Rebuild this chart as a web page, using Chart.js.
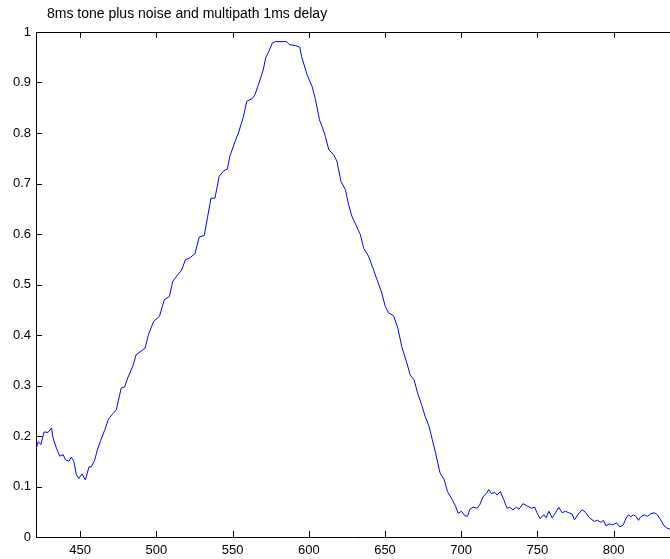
<!DOCTYPE html>
<html>
<head>
<meta charset="utf-8">
<script src="https://cdn.jsdelivr.net/npm/chart.js@4/dist/chart.umd.min.js"></script>
<style>
  html, body { margin: 0; padding: 0; background: #fff; }
  #wrap { width: 670px; height: 559px; position: relative; }
</style>
</head>
<body>
<div id="wrap"><canvas id="chart" width="670" height="559"></canvas></div>
<script>
// Title and axis ticks
const TITLE = '8ms tone plus noise and multipath 1ms delay';
const X_TICKS = [450, 500, 550, 600, 650, 700, 750, 800];
const Y_TICKS = [0, 0.1, 0.2, 0.3, 0.4, 0.5, 0.6, 0.7, 0.8, 0.9, 1];

// Curve (sample index vs. correlation)
const xs = [
  421, 422.4, 424.2, 426.3, 428.9, 431.2, 432.2, 434.4, 436.6, 438.8,
  440.3, 442.5, 444.2, 445.8, 447.5, 449.2, 451.2, 453.4, 455.8, 457.3,
  459.5, 461.2, 463.4, 466, 468.6, 471.4, 473.7, 476.9, 479.1, 481.2,
  484.5, 486.7, 490, 492.6, 494.8, 498.2, 502, 505.2, 508.5, 510.7,
  513.9, 516.5, 519, 521.6, 525.3, 528.1, 531.4, 533.5, 535.8, 538.4,
  541.2, 543.8, 546.6, 548.2, 552.1, 553.8, 556.9, 559.3, 562.9, 564.7,
  566.5, 568.4, 570.1, 571.7, 573.9, 576, 578.2, 585.2, 587.4, 591.3,
  594.1, 595.2, 598.9, 602.2, 604.4, 607, 608.7, 610.9, 613.1, 616.3,
  618.5, 621.1, 624, 626.1, 628.3, 630.9, 633.8, 636, 639.2, 642,
  644.6, 647.9, 650.1, 652.3, 655.6, 658.4, 661, 664.3, 666.5, 669.1,
  671.4, 674, 676.3, 678.9, 681, 683.2, 686.1, 688.9, 691, 694.1,
  696.3, 698, 700.2, 702.4, 704.1, 705.7, 707.8, 710.5, 712.2, 714.4,
  716.5, 718.1, 719.8, 722, 723.5, 725.7, 727.9, 730.1, 731.8, 734,
  736.2, 737.9, 740.5, 743.1, 746, 748.2, 749.7, 751.8, 754.1, 755.7,
  757.5, 759.7, 761.9, 764, 766.2, 768.4, 770.6, 772.7, 774.3, 776.5,
  779.3, 781.5, 784.1, 787.4, 789.5, 791.7, 793.3, 795, 797.2, 799.3,
  801.9, 804.1, 806.3, 808, 809.8, 811.3, 812.9, 814.6, 816.3, 817.8,
  820.1, 822.2, 824.4, 826.6, 828.7, 830.9, 833.1, 834.8, 837
];
const ys = [
  0.173, 0.189, 0.183, 0.208, 0.207, 0.216, 0.196, 0.176, 0.160, 0.163,
  0.153, 0.150, 0.158, 0.150, 0.123, 0.116, 0.125, 0.113, 0.139, 0.139,
  0.152, 0.172, 0.191, 0.211, 0.234, 0.244, 0.252, 0.295, 0.297, 0.315,
  0.338, 0.361, 0.368, 0.374, 0.401, 0.427, 0.437, 0.470, 0.476, 0.506,
  0.519, 0.528, 0.549, 0.552, 0.561, 0.594, 0.597, 0.632, 0.671, 0.671,
  0.714, 0.724, 0.729, 0.754, 0.787, 0.800, 0.830, 0.863, 0.868, 0.876,
  0.892, 0.909, 0.925, 0.949, 0.962, 0.978, 0.981, 0.981, 0.975, 0.973,
  0.970, 0.952, 0.915, 0.892, 0.866, 0.826, 0.813, 0.793, 0.767, 0.757,
  0.744, 0.704, 0.688, 0.658, 0.635, 0.618, 0.599, 0.572, 0.556, 0.533,
  0.511, 0.483, 0.457, 0.444, 0.438, 0.414, 0.377, 0.345, 0.321, 0.311,
  0.285, 0.262, 0.239, 0.219, 0.193, 0.166, 0.127, 0.113, 0.090, 0.074,
  0.061, 0.047, 0.051, 0.042, 0.041, 0.055, 0.059, 0.057, 0.064, 0.080,
  0.086, 0.094, 0.086, 0.088, 0.083, 0.090, 0.074, 0.057, 0.059, 0.054,
  0.059, 0.055, 0.066, 0.062, 0.057, 0.059, 0.048, 0.036, 0.044, 0.038,
  0.051, 0.038, 0.048, 0.059, 0.048, 0.051, 0.048, 0.046, 0.034, 0.044,
  0.054, 0.049, 0.038, 0.031, 0.033, 0.029, 0.033, 0.022, 0.026, 0.024,
  0.028, 0.020, 0.024, 0.036, 0.044, 0.040, 0.044, 0.041, 0.033, 0.040,
  0.044, 0.041, 0.046, 0.048, 0.044, 0.034, 0.022, 0.018, 0.015
];

const FONT = 'Liberation Sans, Arial, Helvetica, sans-serif';

// MATLAB-style box: inward tick marks, top border line and the title
const matlabBox = {
  id: 'matlabBox',
  afterDraw(chart) {
    const ctx = chart.ctx;
    const a = chart.chartArea;
    const xs_ = chart.scales.x, ys_ = chart.scales.y;
    const len = 6;
    ctx.save();
    ctx.strokeStyle = '#000';
    ctx.lineWidth = 1;
    ctx.beginPath();
    // top border
    ctx.moveTo(a.left, Math.round(a.top) + 0.5);
    ctx.lineTo(a.right, Math.round(a.top) + 0.5);
    X_TICKS.forEach(v => {
      const px = Math.round(xs_.getPixelForValue(v)) + 0.5;
      ctx.moveTo(px, a.bottom);
      ctx.lineTo(px, a.bottom - len);
      ctx.moveTo(px, a.top);
      ctx.lineTo(px, a.top + len);
    });
    Y_TICKS.forEach(v => {
      const py = Math.round(ys_.getPixelForValue(v)) + 0.5;
      ctx.moveTo(a.left, py);
      ctx.lineTo(a.left + len, py);
    });
    ctx.stroke();

    // title
    ctx.fillStyle = '#000';
    ctx.font = '14px ' + FONT;
    ctx.textAlign = 'left';
    ctx.textBaseline = 'alphabetic';
    ctx.fillText(TITLE, 47, 18);
    ctx.restore();
  }
};

new Chart(document.getElementById('chart').getContext('2d'), {
  type: 'line',
  data: {
    datasets: [{
      data: xs.map((x, i) => ({ x: x, y: ys[i] })),
      borderColor: 'rgb(0, 0, 255)',
      borderWidth: 1,
      pointRadius: 0,
      tension: 0,
      fill: false
    }]
  },
  options: {
    responsive: false,
    animation: false,
    devicePixelRatio: 1,
    layout: { padding: { top: 32, left: 0, right: 0, bottom: 0 } },
    plugins: {
      legend: { display: false },
      title: { display: false },
      tooltip: { enabled: false }
    },
    scales: {
      x: {
        type: 'linear',
        min: 421,
        max: 837,
        afterBuildTicks: s => { s.ticks = X_TICKS.map(v => ({ value: v })); },
        afterFit: s => { s.height = 22; },
        grid: { display: false, drawTicks: false },
        border: { display: true, color: '#000', width: 1 },
        ticks: {
          color: '#000',
          padding: 6,
          maxRotation: 0,
          font: { family: FONT, size: 13 }
        }
      },
      y: {
        type: 'linear',
        min: 0,
        max: 1,
        afterBuildTicks: s => { s.ticks = Y_TICKS.map(v => ({ value: v })); },
        afterFit: s => { s.width = 36; },
        grid: { display: false, drawTicks: false },
        border: { display: true, color: '#000', width: 1 },
        ticks: {
          color: '#000',
          padding: 5,
          font: { family: FONT, size: 13 },
          callback: v => String(Math.round(v * 10) / 10)
        }
      }
    }
  },
  plugins: [matlabBox]
});
</script>
</body>
</html>
